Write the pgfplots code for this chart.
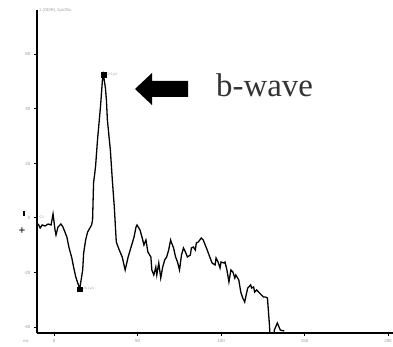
\documentclass[border=0pt]{standalone}
\usepackage{fontspec}
\setmainfont{Liberation Serif}
\newfontfamily\smallsans{Liberation Sans}
\usepackage{pgfplots}
\pgfplotsset{compat=1.18}
\begin{document}
\begin{tikzpicture}
\begin{axis}[at={(37bp,14bp)}, anchor=south west, scale only axis,
  width=351bp, height=323bp,
  xmin=-10.2, xmax=200, ymin=-42.2, ymax=76.3,
  axis lines=left, axis line style={-, line width=1.4bp},
  x axis line style={shorten >=-5bp},
  xtick={0,50,100,150,200}, ytick={-40,-20,0,20,40,60},
  tick style={black, line width=1bp}, major tick length=3bp, tick align=outside,
  tick label style={font=\smallsans\fontsize{4.5}{5}\selectfont, text=black!40},
  /pgf/number format/assume math mode=true,
  clip=true]
\addplot[black, line width=1.3bp, mark=none] coordinates {
(-9.47,-2.20)(-8.28,-3.67)(-7.10,-2.57)(-5.33,-2.94)(-3.55,-2.20)(-1.78,-2.57)
(-0.59,1.47)(0.59,-4.40)(1.18,-6.24)(2.37,-3.30)(4.14,-2.20)(5.33,-3.30)
(6.51,-5.14)(7.69,-6.97)(8.88,-10.64)(10.65,-14.68)(11.83,-18.35)(13.02,-21.65)
(14.20,-23.85)(15.38,-26.06)(17.16,-19.08)(17.75,-12.84)(18.93,-8.07)(20.12,-5.14)
(22.48,-2.57)(23.08,-0.73)(23.67,12.84)(24.85,18.72)(26.03,28.62)(27.81,40.73)
(28.99,50.64)(29.59,52.48)(30.77,47.71)(31.36,43.30)(31.95,35.96)(33.73,24.95)
(34.91,13.94)(36.09,4.04)(37.28,-8.81)(39.05,-11.74)(40.83,-14.31)(42.60,-19.08)
(44.38,-14.31)(46.15,-10.64)(47.93,-6.97)(49.11,-3.30)(49.70,-2.57)(51.48,-4.40)
(52.66,-6.97)(53.85,-9.91)(55.03,-8.07)(56.21,-12.48)(57.99,-14.31)(58.58,-19.08)
(59.76,-20.92)(60.95,-17.98)(61.54,-20.92)(62.72,-16.51)(63.90,-22.02)(65.09,-17.98)
(66.27,-15.41)(67.46,-14.31)(68.64,-11.74)(69.82,-8.07)(70.41,-9.17)(71.60,-11.01)
(72.78,-14.31)(73.96,-16.15)(75.15,-19.08)(76.33,-13.58)(77.51,-11.01)(78.70,-12.48)
(79.88,-14.31)(81.65,-13.58)(82.25,-11.01)(83.43,-10.64)(84.62,-11.74)(85.21,-9.17)
(86.39,-8.81)(88.17,-7.34)(89.35,-8.07)(90.53,-9.91)(91.72,-11.74)(93.49,-14.68)
(94.67,-16.51)(96.45,-17.25)(97.04,-14.68)(98.22,-16.15)(99.41,-18.35)(100.00,-16.15)
(101.77,-16.51)(102.37,-16.15)(103.55,-19.08)(104.73,-23.49)(105.92,-19.08)(107.10,-19.82)
(108.28,-22.02)(108.87,-20.92)(110.65,-22.75)(111.83,-27.16)(113.02,-29.36)(114.20,-30.83)
(114.79,-28.99)(115.98,-25.69)(117.75,-24.59)(118.34,-25.69)(119.53,-25.32)(120.12,-27.16)
(121.30,-26.42)(123.08,-27.52)(124.26,-28.26)(125.44,-28.99)(126.63,-28.99)(127.81,-29.36)
(129.00,-39.27)(129.59,-46.61)(131.36,-46.61)(131.95,-41.10)(133.73,-38.53)(135.50,-41.10)
(137.87,-41.47)
};
\addplot[only marks, mark=square*, mark size=2.6bp, black] coordinates {(29.59,52.48)};
\addplot[only marks, mark=square*, mark size=2.2bp, black] coordinates {(15.38,-26.06)};
\node[anchor=west, font=\smallsans\fontsize{3.5}{4}\selectfont, text=black!35, inner sep=0pt] at (axis cs:30.9,52.48) {52.5\,µV};
\node[anchor=west, font=\smallsans\fontsize{3.5}{4}\selectfont, text=black!35, inner sep=0pt] at (axis cs:16.6,-26.06) {-26.1\,µV};
\node[anchor=west, font=\smallsans\fontsize{3.5}{4}\selectfont, text=black!35, inner sep=0pt] at (axis cs:-8.8,0.3) {C1};
\end{axis}
% annotations in picture coordinates
\node[anchor=west, font=\smallsans\fontsize{4}{5}\selectfont, text=black!40, inner sep=0pt] at (39bp,337bp) {1 (OD/R), 2µV/Div};
\node[anchor=center, font=\smallsans\fontsize{4}{5}\selectfont, text=black!40, inner sep=0pt] at (26bp,6bp) {ms};
\node[anchor=center, font=\bfseries\fontsize{12}{12}\selectfont, inner sep=0pt] at (22bp,116bp) {+};
\fill[black] (23bp,131bp) rectangle (25bp,136bp);
\fill[black] (135bp,258bp) -- (152bp,274bp) -- (152bp,266bp) -- (188bp,266bp) -- (188bp,250bp) -- (152bp,250bp) -- (152bp,242bp) -- cycle;
\node[anchor=base west, inner sep=0pt, text=black!80, font=\fontsize{33}{36}\selectfont] at (216bp,250bp) {b-wave};
\pgfresetboundingbox
\useasboundingbox (0,0) rectangle (393bp,347bp);
\end{tikzpicture}
\end{document}
